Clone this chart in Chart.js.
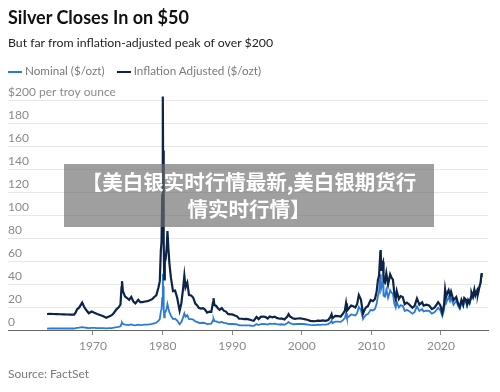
<!DOCTYPE html>
<html>
<head>
<meta charset="utf-8">
<script src="https://cdn.jsdelivr.net/npm/chart.js@4.4.1/dist/chart.umd.min.js"></script>
<style>
  html, body { margin: 0; padding: 0; background: #fff; }
  body { width: 500px; height: 392px; position: relative; overflow: hidden; font-family: Lato, "Open Sans", sans-serif; }
  #chart { position: absolute; left: 0; top: 0; }
  .title { position: absolute; left: 8px; top: 6px; font-size: 18px; font-weight: 700; color: #111; }
  .subtitle { position: absolute; left: 8px; top: 35px; font-size: 12.3px; color: #222; }
  .legend { position: absolute; left: 8px; top: 63px; font-size: 11.7px; color: #7a7a7a; white-space: nowrap; }
  .legend .sw { display: inline-block; width: 14px; height: 2px; vertical-align: middle; margin-right: 3px; }
  .legend .item { margin-right: 9px; }
  .source { position: absolute; left: 8px; top: 366px; font-size: 12px; color: #7a7a7a; }
  .overlay { position: absolute; left: 64px; top: 164px; width: 370px; height: 63px; box-sizing: border-box; padding-top: 4px;
             background: rgba(110, 110, 110, 0.66); color: #fff; font-family: "Noto Sans CJK SC", sans-serif; font-weight: 700;
             font-size: 20.5px; line-height: 27px; text-align: center; white-space: nowrap; }
</style>
</head>
<body>
<canvas id="chart" width="500" height="392"></canvas>
<div class="title">Silver Closes In on $50</div>
<div class="subtitle">But far from inflation-adjusted peak of over $200</div>
<div class="legend">
  <span class="item"><span class="sw" style="background:#2b7bd6"></span>Nominal ($/ozt)</span>
  <span class="item"><span class="sw" style="background:#0d2347"></span>Inflation Adjusted ($/ozt)</span>
</div>
<div class="source">Source: FactSet</div>
<div class="overlay">【美白银实时行情最新,美白银期货行<br>情实时行情】</div>

<script>
// 데이터 (연도, 명목가격, 물가조정가격)
const dates = [
  1963.4, 1963.8, 1964.3, 1964.8, 1965.3, 1965.8, 1966.3, 1966.8, 1967.3, 1967.5, 1967.7, 1968.0, 1968.45, 1968.7,
  1969.0, 1969.4, 1969.8, 1970.2, 1970.6, 1971.0, 1971.5, 1971.9, 1972.3, 1972.7, 1973.0, 1973.4, 1973.7, 1973.95,
  1974.1, 1974.17, 1974.3, 1974.6, 1974.9, 1975.2, 1975.5, 1975.8, 1976.1, 1976.5, 1976.8, 1977.1, 1977.5, 1977.8,
  1978.1, 1978.5, 1978.8, 1979.1, 1979.4, 1979.6, 1979.75, 1979.85, 1979.95, 1980.02, 1980.05, 1980.08, 1980.13, 1980.19,
  1980.24, 1980.32, 1980.45, 1980.6, 1980.7, 1980.85, 1980.98, 1981.2, 1981.5, 1981.8, 1982.1, 1982.45, 1982.7, 1982.95,
  1983.13, 1983.3, 1983.55, 1983.8, 1984.1, 1984.4, 1984.7, 1984.95, 1985.2, 1985.5, 1985.8, 1986.1, 1986.4, 1986.7,
  1987.0, 1987.25, 1987.32, 1987.45, 1987.7, 1987.95, 1988.2, 1988.5, 1988.8, 1989.1, 1989.4, 1989.7, 1990.0, 1990.4,
  1990.7, 1991.0, 1991.4, 1991.7, 1992.0, 1992.4, 1992.8, 1993.1, 1993.5, 1993.8, 1994.1, 1994.5, 1994.8, 1995.1,
  1995.4, 1995.8, 1996.1, 1996.4, 1996.8, 1997.1, 1997.5, 1997.9, 1998.1, 1998.3, 1998.7, 1999.0, 1999.4, 1999.8,
  2000.1, 2000.5, 2000.9, 2001.2, 2001.6, 2001.9, 2002.3, 2002.7, 2003.0, 2003.4, 2003.8, 2004.1, 2004.28, 2004.4,
  2004.8, 2005.2, 2005.6, 2005.95, 2006.2, 2006.36, 2006.5, 2006.8, 2007.1, 2007.4, 2007.7, 2007.95, 2008.2, 2008.5,
  2008.8, 2008.95, 2009.2, 2009.5, 2009.9, 2010.2, 2010.5, 2010.75, 2010.95, 2011.1, 2011.3, 2011.35, 2011.4, 2011.55,
  2011.68, 2011.75, 2011.95, 2012.15, 2012.4, 2012.7, 2012.9, 2013.1, 2013.3, 2013.5, 2013.65, 2013.95, 2014.2, 2014.5,
  2014.8, 2015.1, 2015.4, 2015.9, 2016.2, 2016.55, 2016.9, 2017.3, 2017.5, 2017.9, 2018.3, 2018.7, 2019.1, 2019.6,
  2019.9, 2020.2, 2020.45, 2020.6, 2020.75, 2020.95, 2021.1, 2021.3, 2021.45, 2021.8, 2022.2, 2022.45, 2022.7, 2022.95,
  2023.2, 2023.35, 2023.6, 2023.75, 2023.9, 2024.1, 2024.35, 2024.4, 2024.6, 2024.8, 2024.95, 2025.2, 2025.3, 2025.5,
  2025.7, 2025.8, 2025.85
];

const nominal = [
  1.28, 1.29, 1.29, 1.29, 1.29, 1.29, 1.29, 1.29, 1.29, 1.55, 1.85, 2.05, 2.55, 2.2,
  1.95, 1.65, 1.85, 1.8, 1.7, 1.65, 1.55, 1.38, 1.55, 1.7, 2.0, 2.5, 2.8, 3.2,
  5.5, 6.5, 5.2, 4.6, 4.5, 4.3, 4.8, 4.2, 4.0, 4.6, 4.3, 4.4, 4.6, 4.7,
  4.9, 5.3, 5.8, 6.3, 8.0, 9.5, 16.0, 18.0, 28.0, 40.0, 49.0, 34.0, 38.0, 19.0,
  11.0, 15.0, 16.0, 19.0, 22.5, 18.5, 15.5, 12.5, 9.5, 9.8, 8.2, 5.0, 7.0, 11.0,
  14.5, 11.5, 12.8, 9.5, 9.5, 9.0, 7.4, 7.0, 6.3, 6.1, 6.3, 6.0, 5.1, 5.4,
  5.5, 8.5, 9.8, 7.7, 7.5, 6.8, 6.4, 7.0, 6.2, 6.0, 5.3, 5.2, 5.3, 5.0,
  4.8, 4.0, 4.1, 4.0, 4.1, 4.0, 3.7, 3.6, 5.1, 4.3, 5.2, 5.4, 5.2, 4.7,
  5.6, 5.3, 5.6, 5.1, 4.8, 5.0, 4.6, 5.8, 7.0, 6.0, 5.2, 5.0, 5.2, 5.3,
  5.2, 5.0, 4.7, 4.4, 4.3, 4.2, 4.6, 4.5, 4.7, 4.6, 5.0, 6.5, 8.0, 6.0,
  7.3, 7.2, 7.1, 8.8, 10.5, 14.5, 10.5, 12.0, 13.5, 13.2, 12.6, 14.6, 20.0, 17.5,
  9.5, 11.0, 13.0, 13.8, 17.5, 17.0, 18.2, 22.5, 30.0, 32.5, 47.5, 48.5, 36.0, 40.0,
  41.5, 30.0, 29.0, 35.0, 28.0, 34.5, 32.5, 31.5, 23.0, 19.5, 24.5, 19.6, 21.5, 21.0,
  16.5, 17.5, 16.5, 14.2, 15.5, 20.5, 16.5, 18.3, 16.2, 16.8, 16.6, 14.2, 15.6, 19.2,
  17.2, 12.0, 17.8, 28.5, 23.5, 26.5, 28.5, 25.0, 28.0, 22.0, 25.5, 21.0, 18.3, 24.0,
  20.5, 25.8, 24.5, 21.0, 24.5, 22.5, 28.0, 31.0, 28.0, 34.0, 29.5, 33.5, 30.5, 36.5,
  41.0, 47.0, 49.5
];

const adjusted = [
  13.9, 14.0, 13.9, 13.8, 13.7, 13.6, 13.5, 13.4, 13.3, 15.0, 17.8, 19.4, 23.8, 20.4,
  17.6, 14.6, 16.0, 14.9, 13.9, 13.1, 12.0, 10.6, 11.8, 12.9, 14.8, 18.2, 19.8, 22.2,
  37.0, 42.5, 33.8, 29.2, 27.8, 26.2, 28.8, 24.8, 23.2, 26.3, 24.2, 24.2, 24.8, 25.1,
  25.6, 26.8, 28.7, 30.2, 36.8, 42.5, 69.0, 76.5, 117.0, 166.0, 203.0, 140.0, 156.0, 77.0,
  44.0, 59.0, 62.0, 72.0, 86.0, 70.0, 58.0, 45.5, 33.8, 34.2, 28.0, 16.8, 23.3, 36.2,
  47.2, 37.2, 41.2, 30.4, 30.0, 28.2, 23.0, 21.6, 19.3, 18.6, 19.0, 17.8, 15.1, 15.9,
  15.8, 24.1, 27.6, 21.7, 20.9, 18.9, 17.6, 19.1, 16.8, 16.0, 14.0, 13.6, 13.6, 12.6,
  11.9, 9.8, 9.8, 9.4, 9.6, 9.2, 8.5, 8.1, 11.4, 9.5, 11.4, 11.7, 11.2, 10.0,
  11.8, 11.1, 11.6, 10.5, 9.8, 10.1, 9.2, 11.5, 13.8, 11.8, 10.2, 9.7, 10.0, 10.1,
  9.8, 9.3, 8.7, 8.0, 7.8, 7.6, 8.2, 8.0, 8.3, 8.0, 8.7, 11.2, 13.7, 10.2,
  12.3, 12.0, 11.7, 14.4, 17.0, 23.3, 16.8, 19.1, 21.3, 20.6, 19.5, 22.4, 30.4, 26.4,
  14.3, 16.5, 19.5, 20.6, 26.0, 25.1, 26.8, 33.0, 43.7, 47.0, 68.2, 69.6, 51.5, 57.0,
  59.1, 42.7, 41.2, 49.4, 39.4, 48.4, 45.5, 43.8, 31.9, 27.0, 33.8, 27.0, 29.5, 28.7,
  22.5, 23.8, 22.4, 19.3, 20.8, 27.4, 22.0, 24.0, 21.2, 22.0, 21.3, 18.2, 19.7, 24.2,
  21.6, 14.9, 22.1, 35.3, 29.1, 32.6, 34.6, 30.1, 33.4, 25.8, 28.6, 23.2, 20.1, 26.2,
  22.2, 27.8, 26.3, 22.5, 26.1, 23.8, 29.4, 32.5, 29.2, 35.2, 30.4, 34.3, 31.1, 37.0,
  41.3, 47.2, 49.5
];

const xTicks = [1970, 1980, 1990, 2000, 2010, 2020];
const yTicks = [0, 20, 40, 60, 80, 100, 120, 140, 160, 180, 200];

const toPoints = (vals) => vals.map((v, i) => ({ x: dates[i], y: v }));

const ctx = document.getElementById('chart').getContext('2d');
new Chart(ctx, {
  type: 'line',
  data: {
    datasets: [
      {
        label: 'Inflation Adjusted ($/ozt)',
        data: toPoints(adjusted),
        borderColor: '#0d2347',
        borderWidth: 2.2,
        pointRadius: 0,
        tension: 0,
        clip: false
      },
      {
        label: 'Nominal ($/ozt)',
        data: toPoints(nominal),
        borderColor: '#2b7bd6',
        borderWidth: 1.8,
        pointRadius: 0,
        tension: 0,
        clip: false
      }
    ]
  },
  options: {
    responsive: false,
    animation: false,
    devicePixelRatio: 1,
    layout: { padding: { left: 8, right: 12, top: 94.25, bottom: 32 } },
    plugins: {
      legend: { display: false },
      tooltip: { enabled: false }
    },
    scales: {
      x: {
        type: 'linear',
        min: 1957.79,
        max: 2026.76,
        afterBuildTicks: (s) => { s.ticks = xTicks.map(v => ({ value: v })); },
        afterFit: (s) => { s.height = 30; },
        grid: { drawOnChartArea: false, drawTicks: true, tickLength: 5, color: '#888' },
        border: { color: '#666', width: 1 },
        ticks: {
          padding: 4,
          color: '#8a8a8a',
          font: { family: 'Lato, "Open Sans", sans-serif', size: 12 },
          callback: (v) => String(v)
        }
      },
      y: {
        min: 0,
        max: 205,
        afterBuildTicks: (s) => { s.ticks = yTicks.map(v => ({ value: v })); },
        afterFit: (s) => { s.width = 0; },
        grid: { drawTicks: false, color: '#e8e8e8' },
        border: { display: false },
        ticks: {
          mirror: true,
          padding: 0,
          labelOffset: -8,
          color: '#8a8a8a',
          font: { family: 'Lato, "Open Sans", sans-serif', size: 12 },
          callback: (v) => v === 200 ? '$200 per troy ounce' : String(v)
        }
      }
    }
  }
});
</script>
</body>
</html>
